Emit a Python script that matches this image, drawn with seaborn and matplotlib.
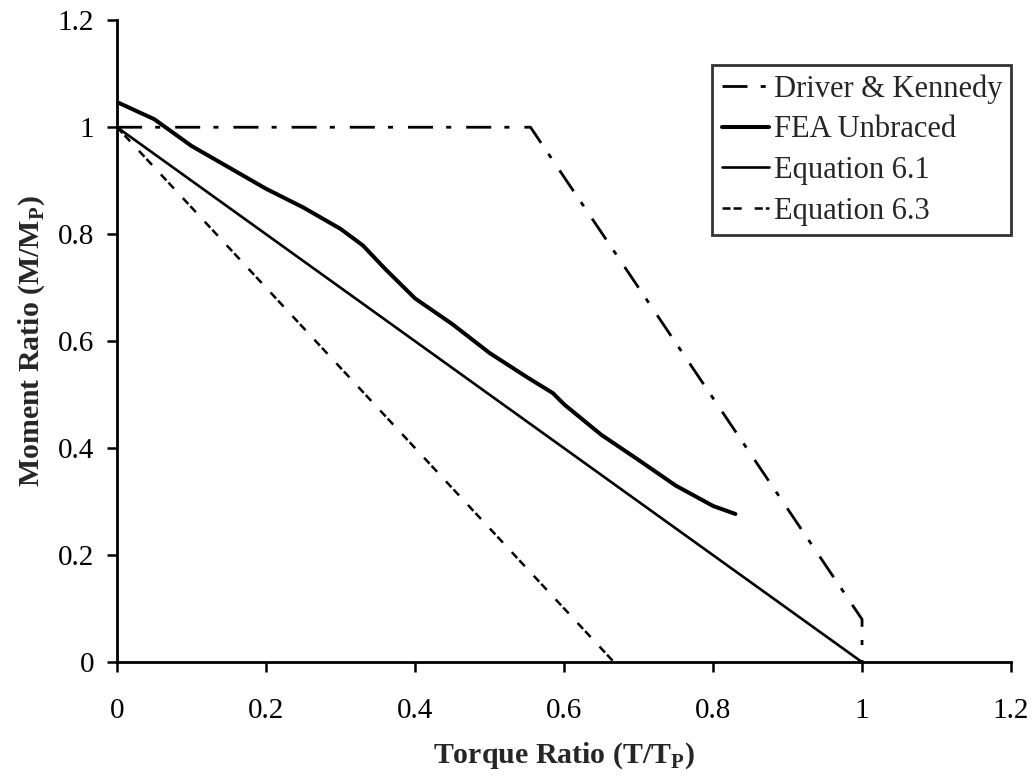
import matplotlib
matplotlib.use("Agg")
import matplotlib.pyplot as plt
import seaborn as sns
import pandas as pd

# Series data
dk_x = [0.0, 0.555, 1.0, 1.0]
dk_y = [1.0, 1.0, 0.08, 0.0]

fea_x = [0.0, 0.05, 0.10, 0.15, 0.20, 0.25, 0.30, 0.33, 0.36, 0.40, 0.45,
         0.50, 0.55, 0.585, 0.60, 0.65, 0.70, 0.75, 0.80, 0.83]
fea_y = [1.047, 1.015, 0.965, 0.925, 0.885, 0.850, 0.810, 0.779, 0.735, 0.680, 0.632,
         0.578, 0.533, 0.503, 0.482, 0.425, 0.378, 0.330, 0.292, 0.277]

eq61_x = [0.0, 1.0]
eq61_y = [1.0, 0.0]

eq63_x = [0.0, 0.667]
eq63_y = [1.0, 0.0]

x_ticks = [0, 0.2, 0.4, 0.6, 0.8, 1, 1.2]
y_ticks = [0, 0.2, 0.4, 0.6, 0.8, 1, 1.2]
tick_labels = ["0", "0.2", "0.4", "0.6", "0.8", "1", "1.2"]

sns.set_style("ticks")
plt.rcParams["font.family"] = ["Liberation Serif", "DejaVu Serif"]
plt.rcParams["lines.scale_dashes"] = False
plt.rcParams["mathtext.default"] = "bf"

fig = plt.figure(figsize=(10.32, 7.79), dpi=100)
ax = fig.add_axes([0.1134, 0.150, 0.8663, 0.824])

df_dk = pd.DataFrame({"x": dk_x, "y": dk_y})
df_fea = pd.DataFrame({"x": fea_x, "y": fea_y})
df_61 = pd.DataFrame({"x": eq61_x, "y": eq61_y})
df_63 = pd.DataFrame({"x": eq63_x, "y": eq63_y})

sns.lineplot(data=df_dk, x="x", y="y", sort=False, estimator=None, ax=ax,
             color="black", linewidth=2.0, label="Driver & Kennedy",
             linestyle=(0, (18, 9.5, 3.6, 10.8)))
sns.lineplot(data=df_fea, x="x", y="y", sort=False, estimator=None, ax=ax,
             color="black", linewidth=2.9, label="FEA Unbraced")
sns.lineplot(data=df_61, x="x", y="y", sort=False, estimator=None, ax=ax,
             color="black", linewidth=1.9, label="Equation 6.1")
sns.lineplot(data=df_63, x="x", y="y", sort=False, estimator=None, ax=ax,
             color="black", linewidth=1.8, label="Equation 6.3",
             linestyle=(0, (5.8, 2.2, 5.8, 9.4)))

ax.set_xlim(0, 1.2)
ax.set_ylim(0, 1.2)
ax.set_xticks(x_ticks)
ax.set_xticklabels(tick_labels)
ax.set_yticks(y_ticks)
ax.set_yticklabels(tick_labels)

for side in ("top", "right"):
    ax.spines[side].set_visible(False)
for side in ("left", "bottom"):
    ax.spines[side].set_linewidth(2.0)
    ax.spines[side].set_color("black")

ax.tick_params(axis="both", direction="out", length=7.5, width=1.8,
               labelsize=21, colors="black")
ax.tick_params(axis="x", pad=18)
ax.tick_params(axis="y", pad=9)

ax.set_xlabel(r"Torque Ratio (T/T$_\mathregular{P}$)", fontsize=21.5,
              fontweight="bold", labelpad=12)
ax.set_ylabel(r"Moment Ratio (M/M$_\mathregular{P}$)", fontsize=21.5,
              fontweight="bold", labelpad=8)

leg = ax.legend(loc="upper left", bbox_to_anchor=(0.666, 0.930), borderaxespad=0,
                fontsize=22, frameon=True, fancybox=False, edgecolor="black",
                handlelength=1.55, handletextpad=0.15, labelspacing=0.38,
                borderpad=0.3)
leg.get_frame().set_linewidth(2.0)

fig.savefig("out.png", dpi=100, facecolor="white")
